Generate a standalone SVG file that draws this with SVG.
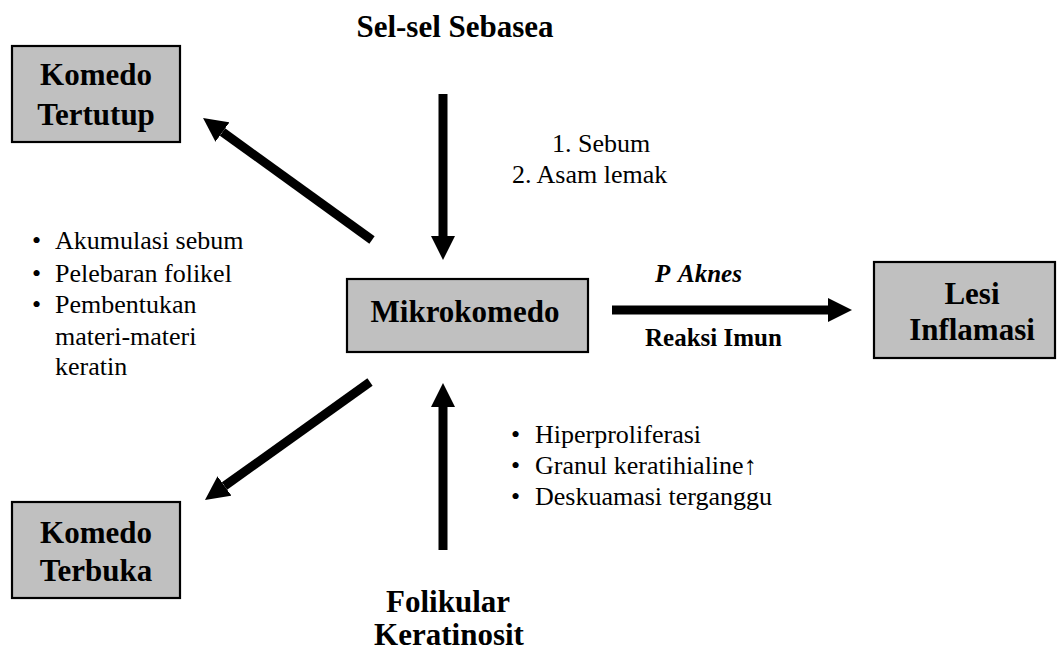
<svg xmlns="http://www.w3.org/2000/svg" width="1057" height="652" viewBox="0 0 1057 652">
<defs>
<style>
.box{fill:#c0c0c0;stroke:#000;stroke-width:2.2}
.bt{font-family:"Liberation Serif","Times New Roman",serif;font-weight:bold;font-size:31px;fill:#000;text-anchor:middle}
.t{font-family:"Liberation Serif","Times New Roman",serif;font-size:26px;fill:#000}
.lb{font-family:"Liberation Serif","Times New Roman",serif;font-weight:bold;font-size:25px;fill:#000}
.arr{stroke:#000;stroke-width:9;fill:none;marker-end:url(#ah)}
</style>
<marker id="ah" markerUnits="userSpaceOnUse" viewBox="0 0 24 24" markerWidth="24" markerHeight="24" refX="0" refY="12" orient="auto">
<path d="M0,0 L24,12 L0,24 z" fill="#000"/>
</marker>
</defs>
<rect width="1057" height="652" fill="#fff"/>

<g id="connectors">
<line class="arr" x1="443" y1="94" x2="443" y2="236"/>
<line class="arr" x1="443" y1="550" x2="443" y2="407"/>
<line class="arr" x1="612" y1="310" x2="828" y2="310"/>
<line class="arr" x1="372" y1="240" x2="222.5" y2="132"/>
<line class="arr" x1="370" y1="382" x2="224.5" y2="486"/>
</g>

<g id="node-komedo-tertutup">
<rect class="box" x="12" y="46" width="168" height="96"/>
<text class="bt" x="96" y="85">Komedo</text>
<text class="bt" x="96" y="125">Tertutup</text>
</g>

<g id="node-komedo-terbuka">
<rect class="box" x="12" y="502" width="168" height="96"/>
<text class="bt" x="96" y="543">Komedo</text>
<text class="bt" x="96" y="581">Terbuka</text>
</g>

<g id="node-mikrokomedo">
<rect class="box" x="347" y="279" width="241" height="73"/>
<text class="bt" x="465" y="322">Mikrokomedo</text>
</g>

<g id="node-lesi-inflamasi">
<rect class="box" x="874" y="262" width="181" height="96"/>
<text class="bt" x="972" y="304">Lesi</text>
<text class="bt" x="972" y="340">Inflamasi</text>
</g>

<g id="node-sel-sebasea">
<text class="bt" x="455" y="37">Sel-sel Sebasea</text>
</g>

<g id="node-folikular-keratinosit">
<text class="bt" x="448" y="612">Folikular</text>
<text class="bt" x="449" y="645">Keratinosit</text>
</g>

<g id="labels">
<text class="t" x="552" y="152">1. Sebum</text>
<text class="t" x="512" y="183">2. Asam lemak</text>

<text class="t" x="32" y="249">•</text><text class="t" x="55" y="249">Akumulasi sebum</text>
<text class="t" x="32" y="282">•</text><text class="t" x="55" y="282">Pelebaran folikel</text>
<text class="t" x="32" y="313">•</text><text class="t" x="55" y="313">Pembentukan</text>
<text class="t" x="55" y="345">materi-materi</text>
<text class="t" x="55" y="375">keratin</text>

<text class="t" x="511" y="443">•</text><text class="t" x="535" y="443">Hiperproliferasi</text>
<text class="t" x="511" y="474">•</text><text class="t" x="535" y="474">Granul keratihialine↑</text>
<text class="t" x="511" y="505">•</text><text class="t" x="535" y="505">Deskuamasi terganggu</text>

<text class="lb" y="282" font-style="italic" font-size="29px"><tspan x="655">P</tspan><tspan x="678">Aknes</tspan></text>
<text class="lb" x="645" y="346">Reaksi Imun</text>
</g>
</svg>
